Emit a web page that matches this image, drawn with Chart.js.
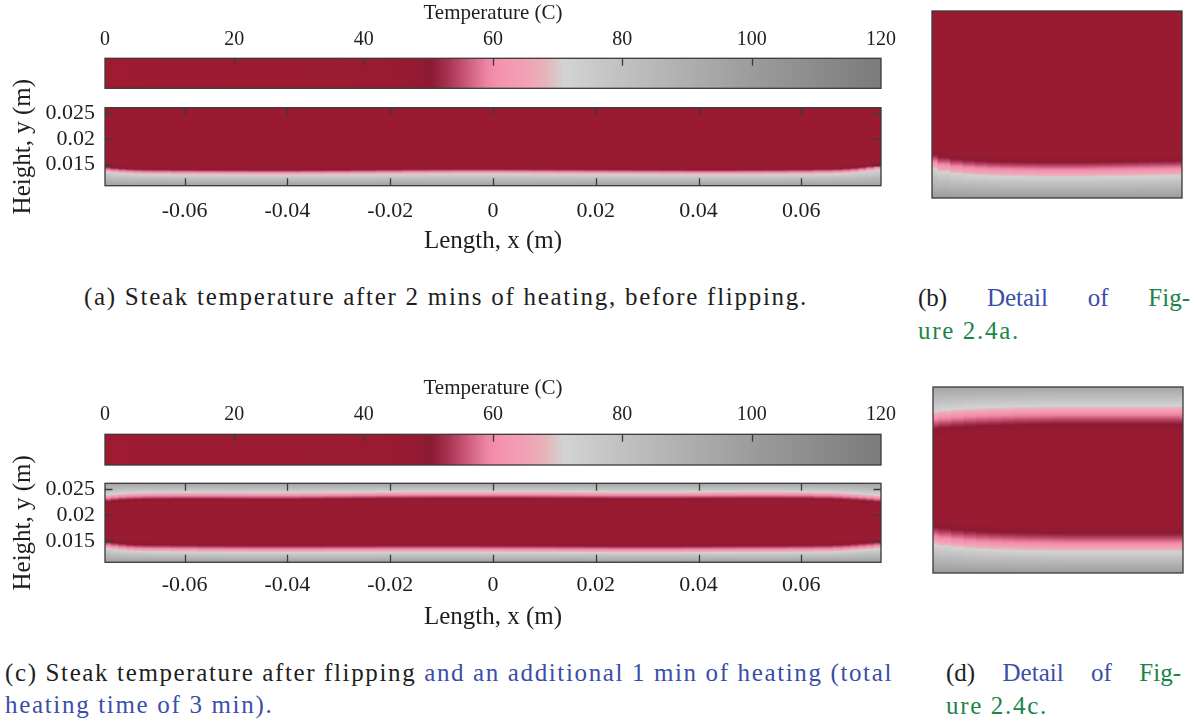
<!DOCTYPE html>
<html>
<head>
<meta charset="utf-8">
<script src="https://cdn.jsdelivr.net/npm/chart.js@4.4.1/dist/chart.umd.min.js"></script>
<style>
  html, body { margin: 0; padding: 0; background: #fff; }
  #page { position: relative; width: 1195px; height: 723px; overflow: hidden; }
  canvas { position: absolute; }
  .cap { position: absolute; font-family: "Liberation Serif", "Times New Roman", serif; font-size: 25px;
         line-height: 1; color: #1e1e1e; white-space: nowrap; }
  .row { display: flex; justify-content: space-between; }
  .blue { color: #3a4ea8; }
  .green { color: #1b8547; }
</style>
</head>
<body>
<div id="page">
  <canvas id="cbA" width="900" height="96" style="left:0;top:0"></canvas>
  <canvas id="heatA" width="900" height="200" style="left:0;top:60px"></canvas>
  <canvas id="detB" width="252" height="189" style="left:931px;top:10px"></canvas>
  <canvas id="cbC" width="900" height="100" style="left:0;top:372px"></canvas>
  <canvas id="heatC" width="900" height="194" style="left:0;top:440px"></canvas>
  <canvas id="detD" width="252" height="188" style="left:932px;top:386px"></canvas>

  <div class="cap fit" data-w="724" style="left:84px;top:284px">(a) Steak temperature after 2 mins of heating, before flipping.</div>
  <div class="cap row" style="left:918px;top:285px;width:272px"><span>(b)</span><span class="blue">Detail</span><span class="blue">of</span><span class="green">Fig-</span></div>
  <div class="cap green spaced" style="left:918px;top:318px">ure 2.4a.</div>

  <div class="cap fit" data-w="888" style="left:5px;top:660px">(c) Steak temperature after flipping <span class="blue">and an additional 1 min of heating (total</span></div>
  <div class="cap blue spaced" style="left:5px;top:692px">heating time of 3 min).</div>
  <div class="cap row" style="left:946px;top:660px;width:235px"><span>(d)</span><span class="blue">Detail</span><span class="blue">of</span><span class="green">Fig-</span></div>
  <div class="cap green spaced" style="left:946px;top:693px">ure 2.4c.</div>
</div>
<script>
// colour map of the colour bar (temperature in C -> colour)
const cmapTemps  = [0, 45, 49, 50.5, 53, 56, 59, 61, 65, 68, 71, 80, 100, 120];
const cmapColors = ['#9e1b32', '#9a1b31', '#911a32', '#8b1a33', '#a8324f', '#cc5a7b', '#ec86a4',
                    '#f592ae', '#f2a1b6', '#e7b3b8', '#d3d3d3', '#c1c1c1', '#9c9c9c', '#7b7b7b'];
const cbTicks = [0, 20, 40, 60, 80, 100, 120];

const xTicks = [-0.06, -0.04, -0.02, 0, 0.02, 0.04, 0.06];
const xTickLabels = ['-0.06', '-0.04', '-0.02', '0', '0.02', '0.04', '0.06'];
const yTicks = [0.015, 0.02, 0.025];
const yTickLabels = ['0.015', '0.02', '0.025'];
const xRange = [-0.0755, 0.0755];
const yRange = [0.0109, 0.0261];

// columns along the steak length (m), finer near the two ends
const xCols = [-0.075, -0.0735, -0.072, -0.0705, -0.069, -0.0675, -0.065,
               -0.06, -0.055, -0.05, -0.045, -0.04, -0.035, -0.03, -0.025, -0.02, -0.015, -0.01, -0.005,
               0, 0.005, 0.01, 0.015, 0.02, 0.025, 0.03, 0.035, 0.04, 0.045, 0.05, 0.055, 0.06,
               0.065, 0.0675, 0.069, 0.0705, 0.072, 0.0735, 0.075];
// height of the 60 C isotherm, panel (a)
const isoA = [0.01401, 0.01383, 0.01372, 0.01364, 0.01358, 0.01354, 0.01352,
              0.01348, 0.01346, 0.01344, 0.01342, 0.01342, 0.01344, 0.01346, 0.01350, 0.01354, 0.01358, 0.01360, 0.01362,
              0.01362, 0.01360, 0.01358, 0.01356, 0.01354, 0.01352, 0.01350, 0.01348, 0.01346, 0.01346, 0.01348, 0.01350, 0.01354,
              0.01360, 0.01366, 0.01374, 0.01385, 0.01401, 0.01420, 0.01440];
// panel (c): lower and upper 60 C isotherms
const isoCBottom = [0.01413, 0.01392, 0.01375, 0.01363, 0.01356, 0.01352, 0.01350,
                    0.01346, 0.01342, 0.01340, 0.01338, 0.01338, 0.01338, 0.01340, 0.01340, 0.01342, 0.01342, 0.01342, 0.01342,
                    0.01340, 0.01338, 0.01337, 0.01335, 0.01333, 0.01331, 0.01331, 0.01331, 0.01333, 0.01335, 0.01337, 0.01338, 0.01342,
                    0.01346, 0.01354, 0.01363, 0.01373, 0.01385, 0.01396, 0.01408];
const isoCTop = [0.02331, 0.02346, 0.02358, 0.02365, 0.02369, 0.02373, 0.02375,
                 0.02377, 0.02377, 0.02375, 0.02373, 0.02373, 0.02377, 0.02381, 0.02385, 0.02388, 0.02390, 0.02392, 0.02392,
                 0.02392, 0.02392, 0.02390, 0.02388, 0.02387, 0.02385, 0.02385, 0.02385, 0.02387, 0.02388, 0.02390, 0.02390, 0.02388,
                 0.02381, 0.02373, 0.02365, 0.02356, 0.02346, 0.02335, 0.02323];

// detail panels, x and y as fractions of the panel
const detailCols = [0, 0.05, 0.1, 0.15, 0.2, 0.25, 0.3, 0.35, 0.4, 0.45, 0.5,
                    0.55, 0.6, 0.65, 0.7, 0.75, 0.8, 0.85, 0.9, 0.95, 1];
const isoB = [0.190, 0.176, 0.166, 0.160, 0.156, 0.153, 0.151, 0.150, 0.149, 0.148, 0.148,
              0.148, 0.148, 0.149, 0.150, 0.151, 0.152, 0.153, 0.154, 0.155, 0.156];
const isoDBottom = [0.192, 0.184, 0.177, 0.171, 0.167, 0.164, 0.162, 0.160, 0.159, 0.158, 0.157,
                    0.156, 0.156, 0.156, 0.156, 0.156, 0.156, 0.156, 0.156, 0.156, 0.156];
const isoDTop = [0.830, 0.836, 0.841, 0.845, 0.848, 0.850, 0.852, 0.854, 0.855, 0.856, 0.857,
                 0.857, 0.857, 0.857, 0.857, 0.857, 0.857, 0.857, 0.857, 0.857, 0.857];

const SERIF = '"Liberation Serif", "Times New Roman", serif';
const INK = '#1e1e1e';

const cmapRgb = cmapColors.map(h => [1, 3, 5].map(i => parseInt(h.slice(i, i + 2), 16)));
function tempColor(t) {
  let i = 1;
  while (i < cmapTemps.length - 1 && t > cmapTemps[i]) i++;
  const f = Math.min(1, Math.max(0, (t - cmapTemps[i - 1]) / (cmapTemps[i] - cmapTemps[i - 1])));
  const a = cmapRgb[i - 1], b = cmapRgb[i];
  return 'rgb(' + a.map((v, k) => Math.round(v + (b[k] - v) * f)).join(',') + ')';
}
function interp(anchors, y) {
  if (y <= anchors[0][0]) return anchors[0][1];
  for (let i = 1; i < anchors.length; i++) {
    if (y <= anchors[i][0]) {
      const [y0, t0] = anchors[i - 1], [y1, t1] = anchors[i];
      return t0 + (t1 - t0) * (y - y0) / (y1 - y0);
    }
  }
  return anchors[anchors.length - 1][1];
}

// vertical gradient of one column, built through the y scale
function columnFill(c, anchorsFor) {
  const chart = c.chart, ys = chart.scales.y;
  if (c.type !== 'data' || !ys) return '#9b1b31';
  const p0 = ys.getPixelForValue(ys.min), p1 = ys.getPixelForValue(ys.max);
  if (!isFinite(p0) || !isFinite(p1) || p0 === p1) return '#9b1b31';
  const anchors = anchorsFor(c.dataIndex);
  const g = chart.ctx.createLinearGradient(0, p0, 0, p1);
  const n = 200;
  for (let i = 0; i <= n; i++) {
    const y = ys.min + (ys.max - ys.min) * i / n;
    g.addColorStop(i / n, tempColor(interp(anchors, y)));
  }
  return g;
}

function oneBand(iso, lo, hi, d72, d50, dRed, tBot, tTop) {
  return [[lo, tBot], [iso - d72, 72], [iso, 60], [iso + d50, 50], [iso + d50 + dRed, 46], [hi, tTop]];
}
function twoBands(isoLo, isoHi, lo, hi, d72, d50, dRed, tBot, tTop) {
  return [[lo, tBot], [isoLo - d72, 72], [isoLo, 60], [isoLo + d50, 50], [isoLo + d50 + dRed, 46],
          [isoHi - d50 - dRed, 46], [isoHi - d50, 50], [isoHi, 60], [isoHi + d72, 72], [hi, tTop]];
}

const frameTicks = {
  id: 'frameTicks',
  afterDatasetsDraw(chart, args, o) {
    const {ctx, chartArea: a, scales} = chart;
    ctx.save();
    ctx.strokeStyle = '#3a3a3a';
    ctx.lineWidth = 1.3;
    ctx.strokeRect(a.left, a.top, a.right - a.left, a.bottom - a.top);
    const len = 7.5;
    ctx.beginPath();
    (o.xValues || []).forEach(v => {
      const px = Math.round(scales.x.getPixelForValue(v)) + 0.5;
      if (o.xTop) { ctx.moveTo(px, a.top); ctx.lineTo(px, a.top + len); }
      if (o.xBottom) { ctx.moveTo(px, a.bottom); ctx.lineTo(px, a.bottom - len); }
    });
    (o.yValues || []).forEach(v => {
      const py = Math.round(scales.y.getPixelForValue(v)) + 0.5;
      ctx.moveTo(a.left, py); ctx.lineTo(a.left + len, py);
      ctx.moveTo(a.right, py); ctx.lineTo(a.right - len, py);
    });
    ctx.stroke();
    ctx.restore();
  }
};
Chart.register(frameTicks);

const common = {
  responsive: false, animation: false, events: [],
};
// fixed axis boxes: no extra room for labels hanging over the ends
function fixBox(s, w, h) {
  if (w !== undefined) s.width = w;
  if (h !== undefined) s.height = h;
  s.paddingTop = s.paddingBottom = s.paddingLeft = s.paddingRight = 0;
}

function colorbar(id, L) {
  new Chart(document.getElementById(id), {
    type: 'bar',
    data: {
      labels: ['T'],
      datasets: [{
        data: [[cbTicks[0], cbTicks[cbTicks.length - 1]]],
        backgroundColor: c => {
          const xs = c.chart.scales.x;
          if (c.type !== 'data' || !xs) return '#9b1b31';
          const p0 = xs.getPixelForValue(xs.min), p1 = xs.getPixelForValue(xs.max);
          if (!isFinite(p0) || !isFinite(p1) || p0 === p1) return '#9b1b31';
          const g = c.chart.ctx.createLinearGradient(p0, 0, p1, 0);
          cmapTemps.forEach((t, i) => g.addColorStop((t - xs.min) / (xs.max - xs.min), cmapColors[i]));
          return g;
        },
        borderWidth: 0, barPercentage: 1, categoryPercentage: 1
      }]
    },
    options: {
      ...common,
      indexAxis: 'y',
      layout: {padding: L.padding},
      plugins: {legend: {display: false}, tooltip: {enabled: false},
                frameTicks: {xValues: cbTicks.slice(1, -1), xTop: true}},
      scales: {
        x: {
          type: 'linear', position: 'top', min: cbTicks[0], max: cbTicks[cbTicks.length - 1],
          grid: {display: false, drawTicks: false}, border: {display: false},
          afterBuildTicks: s => { s.ticks = cbTicks.map(v => ({value: v})); },
          afterFit: s => fixBox(s, undefined, L.xHeight),
          ticks: {padding: L.tickPad, color: INK, font: {family: SERIF, size: 20}, maxRotation: 0, autoSkip: false,
                  callback: v => String(v)},
          title: {display: true, text: 'Temperature (C)', color: INK, font: {family: SERIF, size: 21},
                  padding: {top: L.titlePad, bottom: 0}}
        },
        y: {display: false}
      }
    }
  });
}

function heatmap(id, anchorsFor, L) {
  new Chart(document.getElementById(id), {
    type: 'bar',
    data: {
      datasets: [{
        data: xCols.map(x => ({x: x, y: [yRange[0], yRange[1]]})),
        backgroundColor: c => columnFill(c, anchorsFor),
        borderWidth: 0, barThickness: 'flex', categoryPercentage: 1, barPercentage: 1, inflateAmount: 0.7
      }]
    },
    options: {
      ...common,
      layout: {padding: L.padding},
      plugins: {legend: {display: false}, tooltip: {enabled: false},
                frameTicks: {xValues: xTicks, yValues: yTicks, xTop: true, xBottom: true}},
      scales: {
        x: {
          type: 'linear', min: xRange[0], max: xRange[1], offset: false,
          grid: {display: false, drawTicks: false}, border: {display: false},
          afterBuildTicks: s => { s.ticks = xTicks.map(v => ({value: v})); },
          afterFit: s => fixBox(s, undefined, L.xHeight),
          ticks: {padding: L.xPad, color: INK, font: {family: SERIF, size: 22}, maxRotation: 0, autoSkip: false,
                  callback: (v, i) => xTickLabels[i]},
          title: {display: true, text: 'Length, x (m)', color: INK, font: {family: SERIF, size: 25},
                  padding: {top: 0, bottom: L.titlePad}}
        },
        y: {
          type: 'linear', min: yRange[0], max: yRange[1],
          grid: {display: false, drawTicks: false}, border: {display: false},
          afterBuildTicks: s => { s.ticks = yTicks.map(v => ({value: v})); },
          afterFit: s => fixBox(s, 105, undefined),
          ticks: {padding: 10, color: INK, font: {family: SERIF, size: 22}, autoSkip: false,
                  callback: (v, i) => yTickLabels[i]},
          title: {display: true, text: 'Height, y (m)', color: INK, font: {family: SERIF, size: 25},
                  padding: {top: 8, bottom: 0}}
        }
      }
    }
  });
}

function detail(id, anchorsFor) {
  new Chart(document.getElementById(id), {
    type: 'bar',
    data: {
      datasets: [{
        data: detailCols.map(x => ({x: x, y: [0, 1]})),
        backgroundColor: c => columnFill(c, anchorsFor),
        borderWidth: 0, barPercentage: 1, categoryPercentage: 1, inflateAmount: 0.7
      }]
    },
    options: {
      ...common,
      layout: {padding: 1},
      plugins: {legend: {display: false}, tooltip: {enabled: false}, frameTicks: {}},
      scales: {
        x: {type: 'linear', display: false, min: 0, max: 1, offset: false},
        y: {type: 'linear', display: false, min: 0, max: 1}
      }
    }
  });
}

// stretch caption lines to the widths they take in the figure
let spacing = [];
document.querySelectorAll('.fit').forEach(el => {
  const natural = el.getBoundingClientRect().width;
  const ls = (Number(el.dataset.w) - natural) / el.textContent.length;
  el.style.letterSpacing = ls + 'px';
  spacing.push(ls);
});
const avg = spacing.reduce((a, b) => a + b, 0) / spacing.length;
document.querySelectorAll('.spaced').forEach(el => { el.style.letterSpacing = avg + 'px'; });

colorbar('cbA', {padding: {left: 105, right: 19, top: 0, bottom: 7.7}, xHeight: 58.3, tickPad: 7, titlePad: 1});
heatmap('heatA', i => oneBand(isoA[i], yRange[0], yRange[1], 0.00045, 0.0006, 0.0006, 97, 40),
        {padding: {left: 0, right: 19, top: 47.7, bottom: 0}, xHeight: 74.3, xPad: 12, titlePad: 4});
detail('detB', i => oneBand(isoB[i], 0, 1, 0.04, 0.045, 0.03, 100, 40));

colorbar('cbC', {padding: {left: 105, right: 19, top: 0, bottom: 7}, xHeight: 62.3, tickPad: 8, titlePad: 3.4});
heatmap('heatC', i => twoBands(isoCBottom[i], isoCTop[i], yRange[0], yRange[1], 0.0006, 0.0008, 0.0006, 98, 96),
        {padding: {left: 0, right: 19, top: 43.3, bottom: 0}, xHeight: 71.7, xPad: 10, titlePad: 2});
detail('detD', i => twoBands(isoDBottom[i], isoDTop[i], 0, 1, 0.045, 0.06, 0.04, 100, 95));
</script>
</body>
</html>
